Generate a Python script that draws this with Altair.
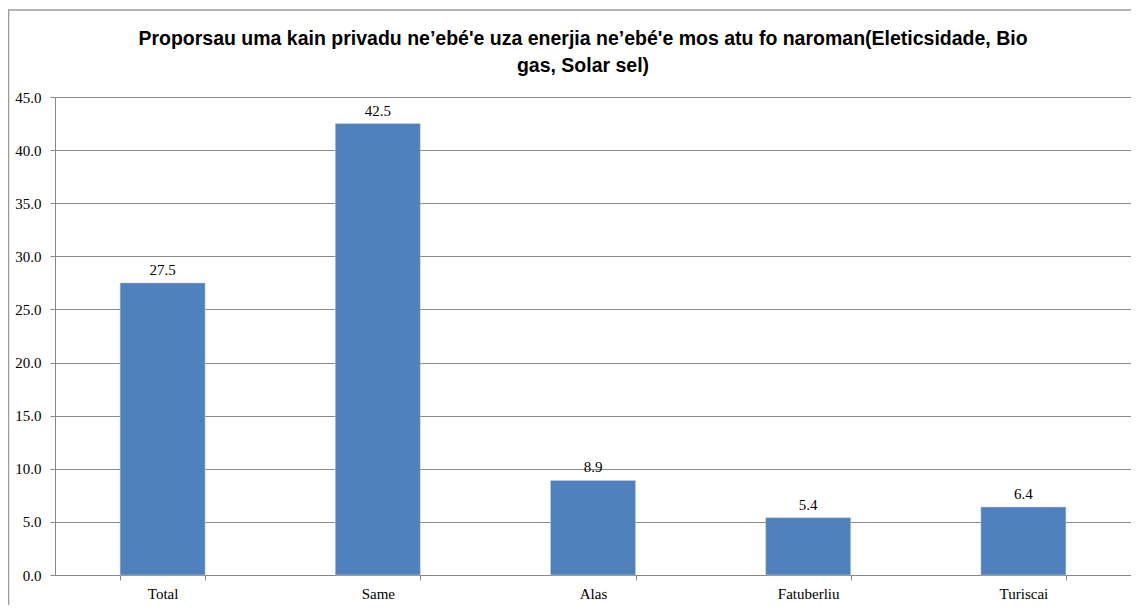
import altair as alt
import pandas as pd

categories = ["Total", "Same", "Alas", "Fatuberliu", "Turiscai"]
values = [27.5, 42.5, 8.9, 5.4, 6.4]
title_lines = [
    "Proporsau uma kain privadu ne\u2019ebé'e uza enerjia ne\u2019ebé'e mos atu fo naroman(Eleticsidade, Bio",
    "gas, Solar sel)",
]

SERIF = "Liberation Serif, Times New Roman, serif"

df = pd.DataFrame({"cat": categories, "val": values})

x = alt.X("cat:N", sort=categories, title=None,
          scale=alt.Scale(paddingInner=0.605, paddingOuter=0.3025),
          axis=alt.Axis(labelAngle=0, tickBand="extent", grid=False,
                        domainColor="#888888", tickColor="#888888",
                        tickSize=5, labelPadding=6,
                        labelFont=SERIF, labelFontSize=15,
                        labelColor="#000000"))
y = alt.Y("val:Q", title=None,
          scale=alt.Scale(domain=[0, 45], nice=False),
          axis=alt.Axis(values=[0, 5, 10, 15, 20, 25, 30, 35, 40, 45], format=".1f",
                        grid=True, gridColor="#8a8a8a", domainColor="#888888",
                        tickColor="#888888", tickSize=5, labelPadding=9,
                        labelFont=SERIF, labelFontSize=15,
                        labelColor="#000000"))

bars = alt.Chart(df).mark_bar(color="#4F81BD", stroke="#c5d3e8", strokeWidth=0.5).encode(x=x, y=y)
labels = alt.Chart(df).mark_text(baseline="alphabetic", dy=-8, font=SERIF,
                                 fontSize=15, color="#000000").encode(
    x=alt.X("cat:N", sort=categories), y="val:Q", text=alt.Text("val:Q", format=".1f"))

border = alt.Chart(alt.Data(values=[{"b": 1}])).mark_rect(
    filled=False, stroke="#9a9a9a", strokeWidth=1.5, clip=False).encode(
    x=alt.value(-46.5), x2=alt.value(1100), y=alt.value(-87), y2=alt.value(530))

chart = alt.layer(border, bars, labels).properties(
    width=1076, height=478,
    title=alt.Title(title_lines, font="Liberation Sans Narrow, Arial Narrow, sans-serif",
                    fontSize=19.5, fontWeight="bold",
                    color="#000000", lineHeight=27, anchor="middle", dx=-10, offset=-67.5),
    autosize=alt.AutoSizeParams(type="none"),
    padding={"left": 47, "top": 89, "right": 0, "bottom": 30},
).configure_view(stroke="transparent")

chart.save("out.html", embed_options={"renderer": "svg", "actions": False})
